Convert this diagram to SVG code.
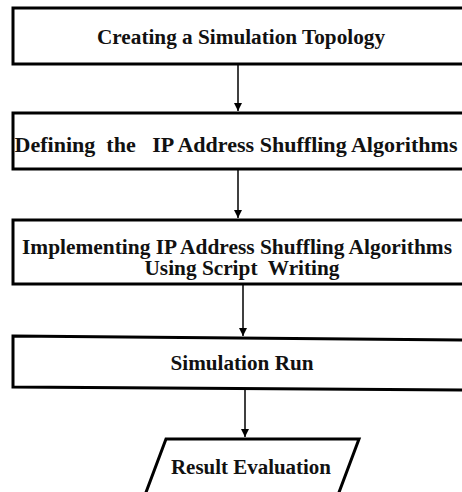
<svg xmlns="http://www.w3.org/2000/svg" width="462" height="492" viewBox="0 0 462 492">
<style>
.box{fill:#fff;stroke:#000;stroke-width:3}
.t{font-family:"Liberation Serif","Times New Roman",serif;font-weight:bold;font-size:20px;fill:#111;text-anchor:middle;white-space:pre}
.c{stroke:#000;stroke-width:1.5;fill:none}
</style>
<defs>
<marker id="ah" markerWidth="10" markerHeight="10" refX="8" refY="4" orient="auto" markerUnits="userSpaceOnUse">
<path d="M0,0 L8,4 L0,8 Z" fill="#000"/>
</marker>
</defs>
<rect width="462" height="492" fill="#fff"/>
<g id="connectors">
<line class="c" x1="238" y1="65" x2="238" y2="111" marker-end="url(#ah)"/>
<line class="c" x1="238" y1="170" x2="238" y2="218" marker-end="url(#ah)"/>
<line class="c" x1="243" y1="285" x2="243" y2="336" marker-end="url(#ah)"/>
<line class="c" x1="245" y1="389" x2="245" y2="437" marker-end="url(#ah)"/>
</g>
<g id="n1">
<rect class="box" x="13" y="8" width="460" height="56"/>
<text class="t" x="241" y="44" textLength="288" lengthAdjust="spacingAndGlyphs">Creating a Simulation Topology</text>
</g>
<g id="n2">
<rect class="box" x="13" y="113" width="460" height="56"/>
<text class="t" x="236" y="152" textLength="443" lengthAdjust="spacingAndGlyphs">Defining  the   IP Address Shuffling Algorithms</text>
</g>
<g id="n3">
<rect class="box" x="13" y="220" width="460" height="64"/>
<text class="t" x="237" y="254" textLength="430" lengthAdjust="spacingAndGlyphs">Implementing IP Address Shuffling Algorithms</text>
<text class="t" x="242" y="275" textLength="195" lengthAdjust="spacingAndGlyphs">Using Script  Writing</text>
</g>
<g id="n4">
<path class="box" d="M13,336 L470,340 L470,390 L13,387 Z"/>
<text class="t" x="242" y="370" textLength="143" lengthAdjust="spacingAndGlyphs">Simulation Run</text>
</g>
<g id="n5">
<path class="box" d="M166,439 L359,439 L338,495 L145,495 Z"/>
<text class="t" x="251" y="474" textLength="160" lengthAdjust="spacingAndGlyphs">Result Evaluation</text>
</g>
</svg>
